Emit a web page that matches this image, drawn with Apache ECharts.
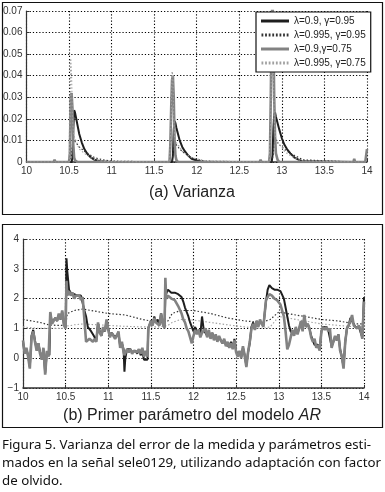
<!DOCTYPE html>
<html>
<head>
<meta charset="utf-8">
<script src="https://cdn.jsdelivr.net/npm/echarts@6/dist/echarts.min.js"></script>
<style>
  html, body { margin: 0; padding: 0; background: #fff; }
  #chart { width: 385px; height: 492px; }
</style>
</head>
<body>
<div id="chart"></div>
<script>
// legend names
const seriesNames = ['λ=0.9, γ=0.95', 'λ=0.995, γ=0.95', 'λ=0.9,γ=0.75', 'λ=0.995, γ=0.75']
const xTicks = [10, 10.5, 11, 11.5, 12, 12.5, 13, 13.5, 14]

// (a) varianza del error
const varTimes = [10.00, 10.32, 10.33, 10.34, 10.50, 10.51, 10.52, 10.53, 10.54, 10.55, 10.56, 10.57, 10.58, 10.60, 10.62, 10.65, 10.68, 10.72, 10.76, 10.80, 10.85, 10.90, 11.00,
  11.68, 11.69, 11.70, 11.71, 11.72, 11.73, 11.74, 11.75, 11.76, 11.78, 11.80, 11.83, 11.86, 11.90, 11.94, 12.00, 12.05, 12.10,
  12.74, 12.75, 12.76, 12.85, 12.86, 12.87, 12.88, 12.89, 12.90, 12.91, 12.92, 12.93, 12.95, 12.97, 13.00, 13.03, 13.06, 13.10, 13.15, 13.20, 13.25,
  13.84, 13.85, 13.86, 13.98, 13.99, 14.00]
const var95 = [0, 0, 0, 0, 0, 0, 0, 0, 0.002, 0.015, 0.024, 0.023, 0.021, 0.017, 0.013, 0.009, 0.006, 0.0035, 0.002, 0.001, 0.0005, 0.0002, 0,
  0, 0, 0, 0, 0.003, 0.015, 0.019, 0.018, 0.016, 0.013, 0.010, 0.007, 0.005, 0.003, 0.0015, 0.0007, 0.0002, 0,
  0, 0, 0, 0, 0, 0, 0, 0.003, 0.015, 0.022, 0.023, 0.021, 0.018, 0.015, 0.011, 0.008, 0.006, 0.004, 0.002, 0.001, 0.0003,
  0, 0, 0, 0, 0, 0]
const varD95 = [0, 0, 0, 0, 0, 0, 0, 0.003, 0.008, 0.011, 0.010, 0.0095, 0.009, 0.008, 0.007, 0.006, 0.005, 0.004, 0.003, 0.002, 0.0015, 0.001, 0.0004,
  0, 0, 0, 0, 0.003, 0.008, 0.009, 0.0085, 0.008, 0.007, 0.006, 0.005, 0.004, 0.003, 0.002, 0.0012, 0.0008, 0.0004,
  0, 0, 0, 0, 0, 0, 0, 0, 0.004, 0.009, 0.010, 0.0095, 0.009, 0.008, 0.007, 0.006, 0.005, 0.004, 0.003, 0.002, 0.001,
  0, 0, 0, 0, 0, 0]
const var75 = [0, 0, 0.001, 0, 0, 0.004, 0.030, 0.032, 0.025, 0.008, 0.002, 0.0008, 0.0004, 0, 0, 0, 0, 0, 0, 0, 0, 0, 0,
  0, 0.008, 0.025, 0.038, 0.040, 0.030, 0.010, 0.003, 0.001, 0, 0, 0, 0, 0, 0, 0, 0, 0,
  0, 0.001, 0, 0, 0.004, 0.030, 0.065, 0.075, 0.060, 0.030, 0.012, 0.004, 0.001, 0, 0, 0, 0, 0, 0, 0, 0,
  0, 0.0015, 0, 0, 0.003, 0.006]
const varD75 = [0, 0, 0, 0, 0, 0.010, 0.048, 0.040, 0.020, 0.014, 0.012, 0.011, 0.010, 0.008, 0.006, 0.005, 0.004, 0.003, 0.002, 0.0012, 0.0008, 0.0004, 0.0001,
  0, 0, 0.020, 0.042, 0.040, 0.020, 0.012, 0.010, 0.009, 0.008, 0.007, 0.005, 0.004, 0.003, 0.002, 0.0015, 0.001, 0.0005,
  0, 0, 0, 0, 0, 0.020, 0.050, 0.060, 0.040, 0.020, 0.013, 0.011, 0.009, 0.008, 0.007, 0.005, 0.004, 0.003, 0.002, 0.001, 0.0005,
  0, 0, 0, 0, 0, 0]

// (b) primer parametro AR
const arTimes = [10.00, 10.02, 10.04, 10.06, 10.08, 10.10, 10.12, 10.14, 10.16, 10.18, 10.20, 10.22, 10.24, 10.26, 10.28, 10.30, 10.31, 10.32, 10.34, 10.36, 10.38, 10.40, 10.42, 10.44, 10.46, 10.48, 10.50,
  10.51, 10.52, 10.54, 10.56, 10.58, 10.60, 10.62, 10.64, 10.66, 10.68, 10.70, 10.72, 10.74, 10.76, 10.78, 10.80, 10.82, 10.84, 10.86, 10.88, 10.90, 10.92, 10.94, 10.96, 10.98,
  11.00, 11.02, 11.04, 11.06, 11.08, 11.10, 11.12, 11.14, 11.16, 11.18, 11.19, 11.20, 11.22, 11.24, 11.26, 11.28, 11.30, 11.32, 11.34, 11.36, 11.38, 11.40, 11.42, 11.44, 11.46, 11.47,
  11.50, 11.52, 11.54, 11.56, 11.58, 11.60, 11.62, 11.64, 11.66, 11.67, 11.68, 11.70, 11.72, 11.74, 11.76, 11.78, 11.80, 11.82, 11.84, 11.86, 11.88, 11.90, 11.92, 11.94, 11.96, 11.98,
  12.00, 12.02, 12.04, 12.06, 12.08, 12.10, 12.12, 12.14, 12.16, 12.18, 12.20, 12.22, 12.24, 12.26, 12.28, 12.30, 12.32, 12.34, 12.36, 12.38, 12.40, 12.42, 12.44, 12.46, 12.48,
  12.50, 12.52, 12.54, 12.56, 12.58, 12.60, 12.62, 12.64, 12.66, 12.68, 12.70, 12.72, 12.74, 12.76, 12.78, 12.80, 12.82, 12.84, 12.85, 12.87, 12.89, 12.92, 12.95, 12.98,
  13.00, 13.02, 13.04, 13.06, 13.08, 13.10, 13.12, 13.14, 13.16, 13.18, 13.20, 13.22, 13.24, 13.26, 13.28, 13.30, 13.32, 13.34, 13.36, 13.38, 13.40, 13.42, 13.44, 13.46, 13.48,
  13.50, 13.52, 13.54, 13.56, 13.58, 13.60, 13.62, 13.64, 13.66, 13.68, 13.70, 13.72, 13.74, 13.76, 13.78, 13.80, 13.82, 13.84, 13.86, 13.88, 13.90, 13.92, 13.94, 13.96, 13.98, 14.00]
const ar95 = [0.55, 0.15, 0.30, 0.10, -0.30, 0.75, 0.95, 0.60, 0.30, 0.50, 0.20, 0.00, 0.30, -0.50, 0.20, 0.15, 0.10, 1.50, 1.20, 1.15, 1.35, 1.25, 1.45, 1.30, 1.55, 1.15, 1.05,
  3.35, 2.90, 2.30, 2.20, 2.15, 2.15, 2.15, 2.10, 2.10, 2.10, 2.05, 1.60, 1.40, 1.05, 1.00, 0.90, 0.80, 0.70, 0.60, 1.15, 0.90, 0.75, 1.00, 0.90, 1.25,
  1.00, 0.75, 0.85, 0.90, 0.70, 0.75, 0.85, 0.40, 0.50, 0.30, -0.45, 0.00, 0.30, 0.25, 0.30, 0.20, 0.25, 0.25, 0.15, 0.30, 0.10, 0.20, -0.05, 0.00, -0.05, 1.00,
  1.25, 1.10, 1.40, 1.20, 1.30, 1.10, 1.50, 1.15, 1.05, 2.10, 2.05, 2.30, 2.25, 2.20, 2.20, 2.20, 2.15, 2.15, 2.10, 2.05, 1.90, 1.70, 1.55, 1.40, 1.20, 1.05,
  0.90, 1.05, 0.85, 0.95, 0.80, 1.40, 0.95, 1.00, 0.75, 0.90, 0.70, 0.85, 0.65, 0.75, 0.60, 0.70, 0.60, 0.50, 0.60, 0.45, 0.50, 0.40, 0.55, 0.35, 0.65,
  0.25, 0.10, 0.20, 0.05, 0.35, 0.10, -0.25, 0.20, 0.50, 1.05, 1.20, 1.00, 1.25, 1.10, 1.25, 1.20, 1.10, 1.15, 1.90, 2.30, 2.45, 2.35, 2.30, 2.30,
  2.30, 2.25, 2.25, 2.00, 1.70, 1.40, 1.10, 0.90, 0.95, 0.80, 1.00, 0.85, 1.00, 1.20, 0.95, 1.40, 1.05, 1.15, 1.00, 0.75, 0.60, 0.45, 0.40, 0.45, 0.30,
  0.90, 1.05, 1.00, 1.05, 0.95, 1.00, 0.40, 0.55, 0.70, 0.60, 0.80, 0.30, 0.05, -0.30, 0.55, 1.00, 1.10, 1.35, 1.40, 1.15, 1.05, 1.00, 1.05, 1.00, 0.70, 2.05]
const ar75 = [0.60, 0.15, 0.35, 0.05, -0.35, 0.70, 0.90, 0.55, 0.25, 0.50, 0.15, -0.05, 0.35, -0.55, 0.25, 0.05, 0.10, 1.55, 1.15, 1.10, 1.35, 1.25, 1.50, 1.30, 1.60, 1.10, 1.00,
  2.60, 2.10, 2.25, 2.10, 2.20, 2.00, 2.10, 2.05, 2.10, 1.95, 2.05, 1.30, 0.55, 0.60, 0.65, 0.60, 0.55, 0.65, 0.55, 1.20, 0.85, 0.75, 1.05, 0.90, 1.30,
  0.95, 0.70, 0.85, 0.90, 0.65, 0.75, 0.90, 0.35, 0.55, 0.20, 0.10, 0.05, 0.30, 0.20, 0.30, 0.15, 0.25, 0.30, 0.20, 0.30, 0.15, 0.35, 0.05, 0.25, 0.05, 1.00,
  1.25, 1.10, 1.35, 1.20, 1.25, 1.10, 1.50, 1.15, 1.00, 2.70, 2.00, 2.10, 2.15, 2.00, 2.05, 1.95, 1.85, 1.75, 1.70, 1.50, 1.30, 1.20, 1.00, 0.90, 0.70, 0.50,
  0.75, 0.95, 0.80, 0.95, 0.70, 0.85, 0.80, 1.00, 0.70, 0.95, 0.65, 0.85, 0.60, 0.80, 0.55, 0.75, 0.60, 0.50, 0.65, 0.40, 0.55, 0.35, 0.50, 0.30, 0.60,
  0.20, 0.05, 0.25, 0.00, 0.40, 0.10, -0.30, 0.20, 0.55, 1.00, 1.15, 0.95, 1.25, 1.05, 1.30, 1.15, 1.05, 1.10, 1.95, 2.05, 2.15, 2.10, 2.00, 1.95,
  1.90, 1.80, 1.60, 1.40, 0.90, 0.30, 0.45, 0.70, 0.95, 0.75, 1.05, 0.80, 1.00, 1.25, 0.90, 1.45, 1.05, 1.15, 1.00, 0.70, 0.55, 0.65, 0.35, 0.45, 0.25,
  0.90, 1.05, 0.95, 1.05, 0.90, 1.00, 0.35, 0.55, 0.75, 0.60, 0.80, 0.25, 0.05, -0.35, 0.55, 1.00, 1.10, 1.25, 1.45, 1.10, 1.05, 1.00, 1.10, 0.95, 0.65, 1.90]
// lambda = 0.995 curves (smoother)
const arSlowTimes = [10.0, 10.1, 10.2, 10.3, 10.4, 10.5, 10.52, 10.6, 10.7, 10.8, 10.9, 11.0, 11.2, 11.4, 11.5, 11.6, 11.7, 11.75, 11.85, 12.0, 12.2, 12.4, 12.6, 12.8, 12.9, 13.0, 13.1, 13.3, 13.5, 13.7, 13.9, 14.0]
const arD95 = [1.30, 1.25, 1.20, 1.12, 1.10, 1.10, 1.50, 1.60, 1.65, 1.60, 1.55, 1.50, 1.45, 1.30, 1.25, 1.20, 1.25, 1.50, 1.60, 1.60, 1.50, 1.35, 1.25, 1.20, 1.30, 1.55, 1.50, 1.40, 1.30, 1.25, 1.15, 1.15]
const arD75 = [1.05, 1.02, 1.00, 1.00, 1.00, 1.00, 1.08, 1.12, 1.15, 1.13, 1.12, 1.10, 1.07, 1.05, 1.05, 1.05, 1.10, 1.20, 1.30, 1.28, 1.20, 1.12, 1.05, 1.00, 1.05, 1.40, 1.35, 1.25, 1.15, 1.10, 1.05, 1.05]

const chart = echarts.init(document.getElementById('chart'))

const pairs = (xs, ys) => xs.map((x, i) => [x, ys[i]])
const lineStyles = [
  { color: '#1e1e1e', width: 2, type: 'solid' },
  { color: '#333', width: 1.2, type: [1.5, 2] },
  { color: '#828282', width: 2.6, type: 'solid' },
  { color: '#a0a0a0', width: 1.1, type: [1.5, 2] }
]
// legend glyphs: solid bar or row of dots
const solidIcon = 'path://M0,0H28V3H0Z'
const dotIcon = 'path://' + Array.from({ length: 8 }, (_, k) => 'M' + (k * 3.6) + ',0h1.8v3h-1.8Z').join('')
const legendIcons = [solidIcon, dotIcon, solidIcon, dotIcon]

const mkSeries = (i, idx, xs, ys) => ({
  name: seriesNames[i],
  type: 'line',
  xAxisIndex: idx,
  yAxisIndex: idx,
  data: pairs(xs, ys),
  showSymbol: false,
  symbol: 'none',
  animation: false,
  color: lineStyles[i].color,
  lineStyle: lineStyles[i]
})

const axisLabel = { color: '#333', fontSize: 10, fontFamily: 'Liberation Sans', margin: 4 }
const gridLine = { show: true, lineStyle: { color: '#000', type: [1.2, 2], width: 1.1 } }
const xAxisOf = (gi) => ({
  type: 'value', gridIndex: gi, min: 10, max: 14, interval: 0.5,
  axisLine: { onZero: false, lineStyle: { color: '#333', width: 1.5 } },
  axisTick: { inside: true, length: 3, lineStyle: { color: '#333' } },
  axisLabel: axisLabel,
  splitLine: gridLine
})

const option = {
  backgroundColor: '#fff',
  animation: false,
  grid: [
    { left: 26, right: 18, top: 11, height: 151 },
    { left: 23, right: 21, top: 239, height: 149 }
  ],
  xAxis: [xAxisOf(0), xAxisOf(1)],
  yAxis: [
    {
      type: 'value', gridIndex: 0, min: 0, max: 0.07, interval: 0.01,
      axisLine: { show: true, onZero: false, lineStyle: { color: '#333', width: 1.2 } },
      axisTick: { show: true, inside: true, length: 3, lineStyle: { color: '#333' } },
      axisLabel: Object.assign({}, axisLabel, { formatter: v => +v.toFixed(2) + '' }),
      splitLine: gridLine
    },
    {
      type: 'value', gridIndex: 1, min: -1, max: 4, interval: 1,
      axisLine: { show: true, onZero: false, lineStyle: { color: '#333', width: 1.2 } },
      axisTick: { show: true, inside: true, length: 3, lineStyle: { color: '#333' } },
      axisLabel: Object.assign({}, axisLabel, { formatter: v => (v < 0 ? '\u2212' + (-v) : v + '') }),
      splitLine: gridLine
    }
  ],
  legend: {
    data: seriesNames.map((n, i) => ({ name: n, icon: legendIcons[i] })),
    orient: 'vertical',
    left: 256,
    top: 12,
    itemWidth: 28,
    itemHeight: 3,
    itemGap: 2,
    padding: [3, 5, 3, 5],
    backgroundColor: '#fff',
    borderColor: '#111',
    borderWidth: 1.2,
    selectedMode: false,
    textStyle: { color: '#222', fontSize: 10, fontFamily: 'Liberation Sans', lineHeight: 12 }
  },
  series: [
    mkSeries(0, 0, varTimes, var95),
    mkSeries(1, 0, varTimes, varD95),
    mkSeries(2, 0, varTimes, var75),
    mkSeries(3, 0, varTimes, varD75),
    mkSeries(1, 1, arSlowTimes, arD95),
    mkSeries(3, 1, arSlowTimes, arD75),
    mkSeries(0, 1, arTimes, ar95),
    mkSeries(2, 1, arTimes, ar75)
  ],
  graphic: [
    { type: 'rect', shape: { x: 2.5, y: 2.5, width: 380, height: 212 }, style: { fill: 'none', stroke: '#111', lineWidth: 1.2 } },
    { type: 'rect', shape: { x: 2.5, y: 224.5, width: 380, height: 203 }, style: { fill: 'none', stroke: '#111', lineWidth: 1.2 } },
    { type: 'text', x: 192, y: 193, style: { text: '(a) Varianza', font: '16px "Liberation Sans"', fill: '#222', align: 'center', verticalAlign: 'middle' } },
    { type: 'text', x: 192, y: 416, style: {
        text: '(b) Primer parámetro del modelo {i|AR}', font: '16px "Liberation Sans"', fill: '#222', align: 'center', verticalAlign: 'middle',
        rich: { i: { fontStyle: 'italic', fontSize: 16, fontFamily: 'Liberation Sans', fill: '#222' } }
      } },
    { type: 'text', x: 2, y: 445, style: { text: 'Figura 5. Varianza del error de la medida y parámetros esti-', font: '13.3px "Noto Sans"', fill: '#111', verticalAlign: 'middle' } },
    { type: 'text', x: 2, y: 463, style: { text: 'mados en la señal sele0129, utilizando adaptación con factor', font: '13.3px "Noto Sans"', fill: '#111', verticalAlign: 'middle' } },
    { type: 'text', x: 2, y: 481, style: { text: 'de olvido.', font: '13.3px "Noto Sans"', fill: '#111', verticalAlign: 'middle' } }
  ]
}
chart.setOption(option)
</script>
</body>
</html>
